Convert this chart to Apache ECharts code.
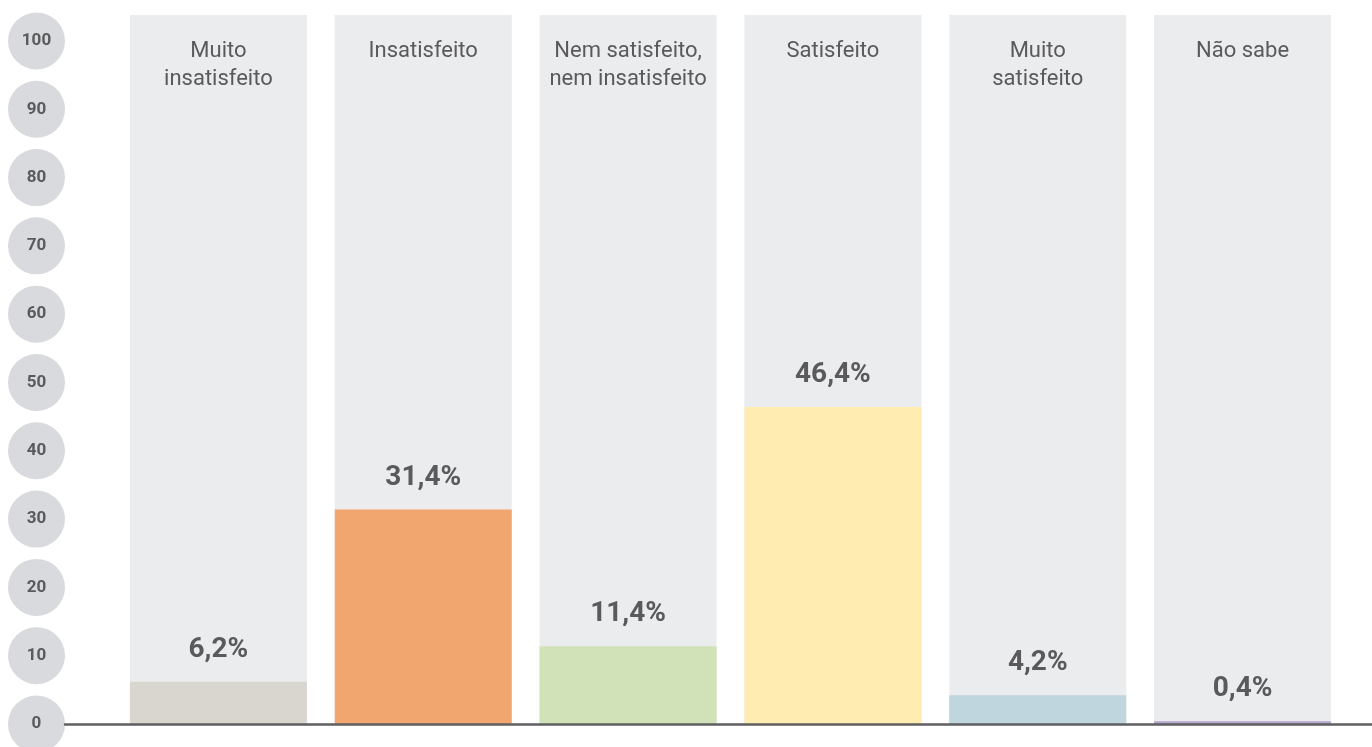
<!DOCTYPE html>
<html>
<head>
<meta charset="utf-8">
<script src="https://cdn.jsdelivr.net/npm/echarts@6/dist/echarts.min.js"></script>
<style>
  html, body { margin: 0; padding: 0; background: #ffffff; }
  #chart { width: 1372px; height: 747px; }
</style>
</head>
<body>
<div id="chart"></div>
<script>
// Satisfaction levels (percent of respondents)
const categories = [
  'Muito\ninsatisfeito',
  'Insatisfeito',
  'Nem satisfeito,\nnem insatisfeito',
  'Satisfeito',
  'Muito\nsatisfeito',
  'Não sabe'
];
const values = [6.2, 31.4, 11.4, 46.4, 4.2, 0.4];
const tickValues = [0, 10, 20, 30, 40, 50, 60, 70, 80, 90, 100];

// one fill per category
const barColors = ['#d9d5cf', '#f1a670', '#d1e2b8', '#feecb0', '#c0d6df', '#b5a5cf'];

const FONT = "Roboto, 'Liberation Sans', sans-serif";
const TEXT = '#5a5a5d';
const Y_MAX = 103.8;

const chart = echarts.init(document.getElementById('chart'), null, { renderer: 'canvas' });

chart.setOption({
  animation: false,
  grid: [
    { left: 116, right: 27, top: 15, bottom: 23, outerBoundsMode: 'none' },
    { left: 65, right: 0, top: 15, bottom: 23, outerBoundsMode: 'none' }
  ],
  xAxis: [
    {
      type: 'category',
      gridIndex: 0,
      data: categories,
      position: 'top',
      z: 5,
      axisLine: { show: false },
      axisTick: { show: false },
      axisLabel: {
        inside: true,
        interval: 0,
        margin: 22,
        fontFamily: FONT,
        fontSize: 22,
        lineHeight: 28,
        color: TEXT
      }
    },
    {
      type: 'value',
      gridIndex: 1,
      min: 0,
      max: 1,
      z: 10,
      axisLine: { show: true, onZero: false, lineStyle: { color: '#5f5f62', width: 2.5 } },
      axisTick: { show: false },
      axisLabel: { show: false },
      splitLine: { show: false }
    }
  ],
  yAxis: [
    {
      type: 'value',
      gridIndex: 0,
      min: 0,
      max: Y_MAX,
      show: false
    },
    {
      type: 'value',
      gridIndex: 1,
      min: 0,
      max: Y_MAX,
      axisLine: { show: false },
      axisTick: { show: false },
      splitLine: { show: false },
      axisLabel: {
        customValues: tickValues,
        margin: 0,
        formatter: '{c|{value}}',
        rich: {
          c: {
            width: 57,
            height: 57,
            lineHeight: 57,
            borderRadius: 28.5,
            backgroundColor: '#d9dadd',
            align: 'center',
            fontFamily: FONT,
            fontWeight: 'bold',
            fontSize: 17,
            color: TEXT
          }
        }
      }
    }
  ],
  series: [
    {
      type: 'bar',
      xAxisIndex: 0,
      yAxisIndex: 0,
      data: values,
      barWidth: 177,
      showBackground: true,
      backgroundStyle: { color: '#ebecee' },
      itemStyle: {
        color: (p) => barColors[p.dataIndex]
      },
      label: {
        show: true,
        position: 'top',
        distance: 18,
        fontFamily: FONT,
        fontWeight: 'bold',
        fontSize: 28,
        color: TEXT,
        formatter: (p) => p.value.toFixed(1).replace('.', ',') + '%'
      }
    }
  ]
});
</script>
</body>
</html>
